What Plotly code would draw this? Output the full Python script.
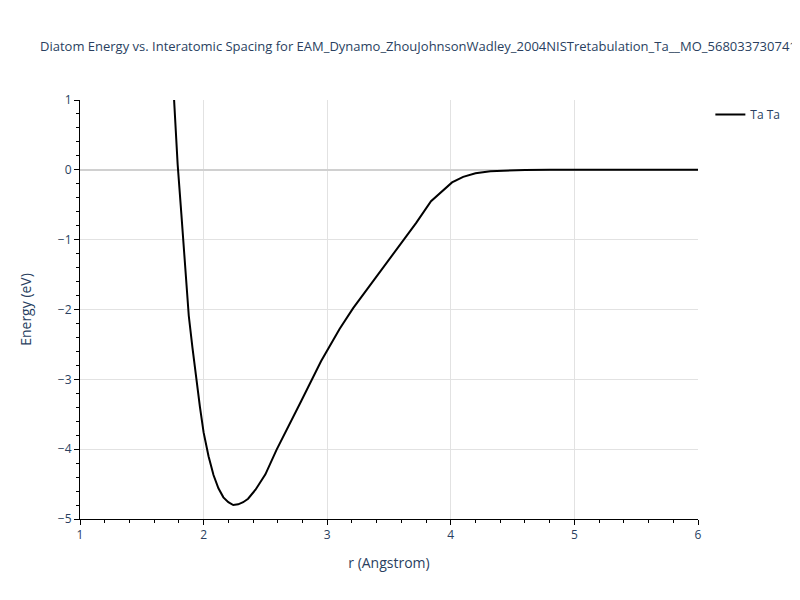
import plotly.graph_objects as go

title_text = ("Diatom Energy vs. Interatomic Spacing for "
              "EAM_Dynamo_ZhouJohnsonWadley_2004NISTretabulation_Ta__MO_568033730741_000")
series_name = "Ta Ta"

r_values = [1.73, 1.76, 1.79, 1.82, 1.85, 1.88, 1.91, 1.94, 1.97, 2.00,
            2.04, 2.08, 2.12, 2.16, 2.20, 2.24, 2.28, 2.32, 2.36, 2.42,
            2.50, 2.59, 2.69, 2.79, 2.95, 3.10, 3.21, 3.37, 3.56, 3.72,
            3.84, 3.94, 4.01, 4.10, 4.20, 4.32, 4.45, 4.60, 4.80, 5.00,
            5.20, 5.40, 5.60, 5.80, 6.00]
energy_values = [2.00, 1.00, 0.08, -0.63, -1.37, -2.09, -2.55, -3.01, -3.39, -3.76,
                 -4.10, -4.37, -4.56, -4.69, -4.76, -4.80, -4.79, -4.76, -4.71, -4.58,
                 -4.36, -4.01, -3.67, -3.31, -2.74, -2.28, -1.98, -1.60, -1.15, -0.76,
                 -0.45, -0.29, -0.18, -0.10, -0.05, -0.02, -0.007, -0.002, 0.0, 0.0,
                 0.0, 0.0, 0.0, 0.0, 0.0]

fig = go.Figure()
fig.add_trace(go.Scatter(x=r_values, y=energy_values, mode="lines", name=series_name,
                         line=dict(color="black", width=2)))

axis_common = dict(
    showline=True, linecolor="black", linewidth=1,
    ticks="outside", ticklen=5, tickcolor="black",
    showgrid=True, gridcolor="#e2e2e2", gridwidth=1,
    zeroline=True, zerolinecolor="#d0d0d0", zerolinewidth=2,
    tickfont=dict(size=12, color="#2a3f5f"),
    minor=dict(ticks="outside", ticklen=3, tickcolor="black", showgrid=False),
)

W, H = 792, 592
fig.update_layout(
    width=W, height=H,
    paper_bgcolor="white", plot_bgcolor="white",
    font=dict(family="Open Sans, verdana, arial, sans-serif", color="#2a3f5f"),
    title=dict(text=title_text, x=32 / W, xanchor="left", xref="container",
               y=1 - 38 / H, yanchor="middle", yref="container",
               font=dict(size=13, color="#2a3f5f")),
    margin=dict(l=72, r=102, t=92, b=81),
    showlegend=True,
    legend=dict(font=dict(size=12)),
    xaxis=dict(range=[1, 6], dtick=1,
               title=dict(text="r (Angstrom)", font=dict(size=14)),
               **axis_common),
    yaxis=dict(range=[-5, 1], dtick=1,
               title=dict(text="Energy (eV)", font=dict(size=14), standoff=22),
               **axis_common),
)
fig.update_xaxes(minor=dict(dtick=0.2))
fig.update_yaxes(minor=dict(dtick=0.2))

fig.write_html("out.html")
